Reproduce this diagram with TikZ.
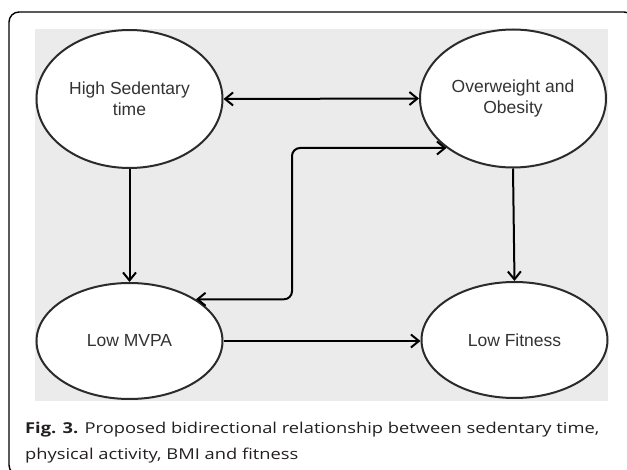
\documentclass[tikz,border=0pt]{standalone}
\usepackage{fontspec}
\setmainfont{Open Sans}
\newfontfamily\nodefont{Liberation Sans}
\usetikzlibrary{shapes.geometric,arrows.meta}
\definecolor{panelgray}{HTML}{EBEBEB}
\definecolor{edgegray}{HTML}{2B2B2B}
\definecolor{txtgray}{HTML}{333333}
\definecolor{captxt}{HTML}{231F20}
\tikzset{
  x=1pt,y=-1pt,
  bubble/.style={ellipse,draw=edgegray,line width=2pt,fill=white,
    minimum width=186pt,inner sep=0pt,align=center,text=txtgray,
    font=\nodefont\fontsize{17.5}{21}\selectfont},
  tallbubble/.style={bubble,minimum height=138pt},
  flatbubble/.style={bubble,minimum height=116pt},
  link/.style={line width=2pt,black,-{Straight Barb[length=8pt,width=13pt]}},
  dlink/.style={line width=2pt,black,{Straight Barb[length=8pt,width=13pt]}-{Straight Barb[length=8pt,width=13pt]}}
}
\begin{document}
\begin{tikzpicture}
\useasboundingbox (0,0) rectangle (627,470);
\clip (0,0) rectangle (627,470);
\draw[line width=1.4pt,rounded corners=10pt] (9,12) rectangle (634,475);
\fill[panelgray] (35,29) rectangle (608,401);
\node[tallbubble] (hs) at (129.5,99) {High Sedentary\\time};
\node[tallbubble] (ow) at (513,98.5) {Overweight and\\Obesity};
\node[flatbubble] (mv) at (129.5,341) {Low MVPA};
\node[flatbubble] (fit) at (514.5,340) {Low Fitness};
\coordinate (bend) at (292,0);
\draw[dlink] (hs.east) -- (ow.west);
\draw[link] (hs.south) -- (mv.north);
\draw[link] (ow.south) -- (fit.north);
\draw[link] (mv.east) -- (mv.east -| fit.west);
\draw[dlink,rounded corners=8pt] (mv.north east) -- (bend |- mv.north east) -- (bend |- ow.south west) -- (ow.south west);
\node[anchor=base west,inner sep=0pt,text=captxt,
  font=\fontsize{15}{25}\selectfont] (cap) at (25,434)
  {\scalebox{1.22}[1]{\begin{tabular}[t]{@{}l@{}}\textbf{Fig. 3.} Proposed bidirectional relationship between sedentary time,\\physical activity, BMI and fitness\end{tabular}}};
\end{tikzpicture}
\end{document}
